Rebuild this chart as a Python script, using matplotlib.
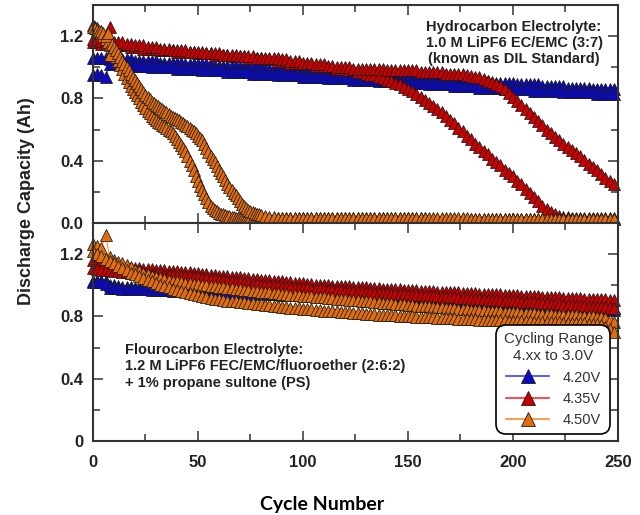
import matplotlib
matplotlib.use("Agg")
import matplotlib.pyplot as plt
import matplotlib.ticker as ticker
from matplotlib.lines import Line2D

plt.rcParams["font.family"] = ["Liberation Sans", "DejaVu Sans"]

#cycle numbers, one point every 2 cycles
cycles = list(range(0, 250, 2))
#4.50V hydrocarbon cells fade fast: every cycle up to 80, then every 2
cycles_fast = list(range(0, 80)) + list(range(80, 250, 2))

voltages = ["4.20V", "4.35V", "4.50V"]

#---- top panel: hydrocarbon electrolyte (two cells per voltage) ----
hc_420_a = [1.06, 1.06, 1.06, 1.06, 1.05, 1.05, 1.05, 1.05, 1.05, 1.05,
            1.04, 1.04, 1.04, 1.04, 1.04, 1.04, 1.03, 1.03, 1.03, 1.03,
            1.03, 1.03, 1.02, 1.02, 1.02, 1.02, 1.02, 1.02, 1.02, 1.01,
            1.01, 1.01, 1.01, 1.01, 1.01, 1.00, 1.00, 1.00, 1.00, 1.00,
            1.00, 0.99, 0.99, 0.99, 0.99, 0.99, 0.99, 0.98, 0.98, 0.98,
            0.98, 0.98, 0.98, 0.97, 0.97, 0.97, 0.97, 0.97, 0.97, 0.96,
            0.96, 0.96, 0.96, 0.96, 0.96, 0.95, 0.95, 0.95, 0.95, 0.95,
            0.95, 0.94, 0.94, 0.94, 0.94, 0.94, 0.94, 0.93, 0.93, 0.93,
            0.93, 0.93, 0.93, 0.92, 0.92, 0.92, 0.92, 0.92, 0.92, 0.91,
            0.91, 0.91, 0.91, 0.91, 0.91, 0.90, 0.90, 0.90, 0.90, 0.90,
            0.90, 0.89, 0.89, 0.89, 0.89, 0.89, 0.89, 0.88, 0.88, 0.88,
            0.88, 0.88, 0.88, 0.87, 0.87, 0.87, 0.87, 0.87, 0.87, 0.86,
            0.86, 0.86, 0.86, 0.86, 0.86]
hc_420_b = [0.95, 0.96, 0.95, 0.94, 1.02, 1.02, 1.02, 1.02, 1.01, 1.01,
            1.01, 1.01, 1.01, 1.01, 1.00, 1.00, 1.00, 1.00, 1.00, 1.00,
            0.99, 0.99, 0.99, 0.99, 0.99, 0.99, 0.98, 0.98, 0.98, 0.98,
            0.98, 0.98, 0.97, 0.97, 0.97, 0.97, 0.97, 0.97, 0.96, 0.96,
            0.96, 0.96, 0.96, 0.96, 0.95, 0.95, 0.95, 0.95, 0.95, 0.95,
            0.94, 0.94, 0.94, 0.94, 0.94, 0.94, 0.93, 0.93, 0.93, 0.93,
            0.93, 0.93, 0.92, 0.92, 0.92, 0.92, 0.92, 0.92, 0.91, 0.91,
            0.91, 0.91, 0.91, 0.91, 0.90, 0.90, 0.90, 0.90, 0.90, 0.90,
            0.89, 0.89, 0.89, 0.89, 0.89, 0.89, 0.88, 0.88, 0.88, 0.88,
            0.88, 0.88, 0.87, 0.87, 0.87, 0.87, 0.87, 0.87, 0.86, 0.86,
            0.86, 0.86, 0.86, 0.86, 0.86, 0.85, 0.85, 0.85, 0.85, 0.85,
            0.85, 0.85, 0.84, 0.84, 0.84, 0.84, 0.84, 0.84, 0.84, 0.84,
            0.83, 0.83, 0.83, 0.83, 0.83]
hc_435_a = [1.16, 1.16, 1.15, 1.15, 1.26, 1.15, 1.14, 1.14, 1.14, 1.13,
            1.13, 1.13, 1.12, 1.12, 1.12, 1.12, 1.11, 1.11, 1.11, 1.11,
            1.10, 1.10, 1.10, 1.10, 1.10, 1.09, 1.09, 1.09, 1.09, 1.08,
            1.08, 1.08, 1.08, 1.07, 1.07, 1.07, 1.07, 1.06, 1.06, 1.06,
            1.06, 1.05, 1.05, 1.05, 1.04, 1.04, 1.04, 1.03, 1.03, 1.03,
            1.02, 1.02, 1.02, 1.01, 1.01, 1.01, 1.00, 1.00, 0.99, 0.99,
            0.99, 0.98, 0.98, 0.97, 0.97, 0.96, 0.95, 0.95, 0.94, 0.93,
            0.92, 0.915, 0.90, 0.89, 0.875, 0.86, 0.845, 0.83, 0.81, 0.79,
            0.77, 0.75, 0.73, 0.71, 0.685, 0.66, 0.64, 0.61, 0.59, 0.56,
            0.54, 0.51, 0.485, 0.46, 0.44, 0.41, 0.39, 0.37, 0.34, 0.32,
            0.30, 0.27, 0.25, 0.22, 0.195, 0.17, 0.14, 0.11, 0.09, 0.07,
            0.055, 0.045, 0.04, 0.036, 0.033, 0.03, 0.03, 0.03, 0.03, 0.03,
            0.03, 0.03, 0.03, 0.03, 0.03]
hc_435_b = [1.18, 1.18, 1.17, 1.17, 1.17, 1.16, 1.16, 1.16, 1.15, 1.15,
            1.14, 1.14, 1.14, 1.13, 1.13, 1.13, 1.12, 1.12, 1.12, 1.11,
            1.11, 1.11, 1.11, 1.10, 1.10, 1.10, 1.10, 1.09, 1.09, 1.09,
            1.09, 1.08, 1.08, 1.08, 1.08, 1.07, 1.07, 1.07, 1.07, 1.06,
            1.06, 1.06, 1.06, 1.06, 1.06, 1.05, 1.05, 1.04, 1.04, 1.04,
            1.03, 1.03, 1.03, 1.02, 1.02, 1.02, 1.01, 1.01, 1.00, 1.00,
            1.00, 1.00, 0.99, 0.99, 0.99, 0.99, 0.99, 0.99, 0.99, 0.99,
            0.98, 0.98, 0.98, 0.98, 0.98, 0.98, 0.98, 0.98, 0.97, 0.97,
            0.97, 0.97, 0.97, 0.97, 0.96, 0.96, 0.96, 0.96, 0.96, 0.95,
            0.945, 0.94, 0.935, 0.925, 0.915, 0.905, 0.895, 0.88, 0.86, 0.835,
            0.81, 0.785, 0.76, 0.73, 0.705, 0.68, 0.655, 0.63, 0.60, 0.575,
            0.555, 0.53, 0.51, 0.49, 0.47, 0.45, 0.43, 0.405, 0.38, 0.36,
            0.34, 0.315, 0.29, 0.27, 0.25]
hc_450_a = [1.27, 1.26, 1.25, 1.235, 1.22, 1.20, 1.18, 1.16, 1.14, 1.115,
            1.09, 1.065, 1.04, 1.015, 0.99, 0.96, 0.93, 0.905, 0.88, 0.86,
            0.84, 0.82, 0.80, 0.78, 0.76, 0.74, 0.72, 0.705, 0.69, 0.675,
            0.66, 0.65, 0.64, 0.63, 0.62, 0.61, 0.60, 0.59, 0.58, 0.56,
            0.54, 0.52, 0.50, 0.48, 0.46, 0.43, 0.40, 0.37, 0.34, 0.305,
            0.27, 0.24, 0.21, 0.185, 0.16, 0.135, 0.11, 0.097, 0.085, 0.075,
            0.065, 0.06, 0.055, 0.05, 0.045, 0.042, 0.04, 0.037, 0.035, 0.032,
            0.03, 0.03, 0.03, 0.03, 0.03, 0.03, 0.03, 0.03, 0.03, 0.03,
            0.03, 0.03, 0.03, 0.03, 0.03, 0.03, 0.03, 0.03, 0.03, 0.03,
            0.03, 0.03, 0.03, 0.03, 0.03, 0.03, 0.03, 0.03, 0.03, 0.03,
            0.029, 0.029, 0.029, 0.029, 0.029, 0.029, 0.029, 0.029, 0.029, 0.029,
            0.029, 0.029, 0.029, 0.029, 0.029, 0.029, 0.029, 0.029, 0.029, 0.029,
            0.028, 0.028, 0.028, 0.028, 0.028, 0.028, 0.028, 0.028, 0.028, 0.028,
            0.028, 0.028, 0.028, 0.028, 0.028, 0.028, 0.028, 0.028, 0.028, 0.028,
            0.027, 0.027, 0.027, 0.027, 0.027, 0.027, 0.027, 0.027, 0.027, 0.027,
            0.026, 0.026, 0.026, 0.026, 0.026, 0.026, 0.026, 0.026, 0.026, 0.026,
            0.025, 0.025, 0.025, 0.025, 0.025]
hc_450_b = [1.26, 1.25, 1.24, 1.235, 1.23, 1.22, 1.20, 1.22, 1.08, 1.15,
            1.13, 1.11, 1.09, 1.065, 1.04, 1.02, 1.00, 0.98, 0.96, 0.94,
            0.92, 0.90, 0.88, 0.86, 0.84, 0.825, 0.81, 0.795, 0.78, 0.77,
            0.76, 0.75, 0.74, 0.73, 0.72, 0.71, 0.70, 0.69, 0.68, 0.675,
            0.67, 0.66, 0.65, 0.64, 0.63, 0.62, 0.61, 0.60, 0.59, 0.575,
            0.56, 0.545, 0.53, 0.505, 0.48, 0.455, 0.43, 0.41, 0.39, 0.365,
            0.34, 0.32, 0.30, 0.275, 0.25, 0.23, 0.21, 0.195, 0.18, 0.16,
            0.14, 0.125, 0.11, 0.097, 0.085, 0.077, 0.07, 0.065, 0.06, 0.055,
            0.05, 0.045, 0.04, 0.036, 0.033, 0.031, 0.03, 0.03, 0.03, 0.03,
            0.03, 0.03, 0.03, 0.03, 0.03, 0.03, 0.03, 0.03, 0.03, 0.03,
            0.03, 0.03, 0.03, 0.03, 0.03, 0.03, 0.03, 0.03, 0.03, 0.03,
            0.029, 0.029, 0.029, 0.029, 0.029, 0.029, 0.029, 0.029, 0.029, 0.029,
            0.029, 0.029, 0.029, 0.029, 0.029, 0.029, 0.029, 0.029, 0.029, 0.029,
            0.028, 0.028, 0.028, 0.028, 0.028, 0.028, 0.028, 0.028, 0.028, 0.028,
            0.028, 0.028, 0.028, 0.028, 0.028, 0.028, 0.028, 0.028, 0.028, 0.028,
            0.027, 0.027, 0.027, 0.027, 0.027, 0.027, 0.027, 0.027, 0.027, 0.027,
            0.026, 0.026, 0.026, 0.026, 0.026]

#---- bottom panel: fluorocarbon electrolyte ----
fc_420_a = [1.03, 1.03, 1.03, 1.03, 1.00, 1.00, 0.995, 0.99, 0.99, 0.99,
            0.985, 0.985, 0.985, 0.98, 0.98, 0.98, 0.978, 0.976, 0.974, 0.972,
            0.97, 0.97, 0.968, 0.966, 0.965, 0.964, 0.963, 0.962, 0.961, 0.96,
            0.96, 0.958, 0.957, 0.956, 0.955, 0.954, 0.953, 0.952, 0.951, 0.95,
            0.949, 0.948, 0.947, 0.946, 0.945, 0.945, 0.944, 0.943, 0.942, 0.941,
            0.94, 0.939, 0.938, 0.937, 0.936, 0.935, 0.934, 0.933, 0.932, 0.931,
            0.93, 0.929, 0.927, 0.926, 0.925, 0.923, 0.922, 0.921, 0.919, 0.918,
            0.917, 0.915, 0.914, 0.913, 0.911, 0.91, 0.909, 0.907, 0.906, 0.905,
            0.903, 0.902, 0.901, 0.899, 0.898, 0.897, 0.895, 0.894, 0.893, 0.891,
            0.89, 0.889, 0.888, 0.887, 0.886, 0.885, 0.884, 0.883, 0.882, 0.881,
            0.88, 0.879, 0.878, 0.877, 0.876, 0.875, 0.874, 0.873, 0.872, 0.871,
            0.87, 0.869, 0.868, 0.867, 0.866, 0.865, 0.864, 0.863, 0.862, 0.861,
            0.86, 0.859, 0.858, 0.857, 0.856]
fc_420_b = [1.02, 1.02, 1.02, 1.01, 0.985, 0.983, 0.98, 0.979, 0.978, 0.977,
            0.976, 0.975, 0.974, 0.973, 0.972, 0.971, 0.97, 0.968, 0.967, 0.966,
            0.965, 0.964, 0.963, 0.962, 0.961, 0.96, 0.959, 0.958, 0.957, 0.956,
            0.955, 0.954, 0.953, 0.952, 0.951, 0.95, 0.949, 0.948, 0.947, 0.946,
            0.945, 0.944, 0.943, 0.942, 0.941, 0.94, 0.939, 0.938, 0.937, 0.936,
            0.935, 0.934, 0.933, 0.932, 0.931, 0.93, 0.929, 0.928, 0.927, 0.926,
            0.925, 0.923, 0.922, 0.921, 0.92, 0.918, 0.917, 0.915, 0.914, 0.913,
            0.911, 0.91, 0.908, 0.907, 0.906, 0.904, 0.903, 0.901, 0.90, 0.899,
            0.897, 0.896, 0.895, 0.893, 0.892, 0.891, 0.889, 0.888, 0.887, 0.885,
            0.884, 0.883, 0.881, 0.88, 0.879, 0.878, 0.877, 0.876, 0.875, 0.874,
            0.873, 0.872, 0.871, 0.87, 0.869, 0.868, 0.867, 0.866, 0.865, 0.864,
            0.863, 0.862, 0.86, 0.859, 0.858, 0.856, 0.855, 0.853, 0.852, 0.851,
            0.849, 0.847, 0.845, 0.843, 0.841]
fc_435_a = [1.16, 1.155, 1.15, 1.145, 1.14, 1.13, 1.125, 1.12, 1.115, 1.11,
            1.11, 1.108, 1.106, 1.104, 1.102, 1.10, 1.098, 1.096, 1.094, 1.092,
            1.09, 1.088, 1.085, 1.083, 1.08, 1.077, 1.074, 1.071, 1.068, 1.065,
            1.062, 1.06, 1.057, 1.055, 1.052, 1.05, 1.047, 1.045, 1.042, 1.04,
            1.037, 1.035, 1.032, 1.03, 1.027, 1.025, 1.022, 1.02, 1.017, 1.015,
            1.012, 1.01, 1.007, 1.005, 1.003, 1.00, 0.999, 0.998, 0.997, 0.996,
            0.995, 0.993, 0.991, 0.989, 0.988, 0.986, 0.984, 0.983, 0.981, 0.979,
            0.978, 0.976, 0.975, 0.973, 0.972, 0.97, 0.969, 0.967, 0.966, 0.964,
            0.963, 0.962, 0.96, 0.959, 0.958, 0.957, 0.955, 0.954, 0.953, 0.952,
            0.95, 0.949, 0.947, 0.946, 0.945, 0.943, 0.942, 0.941, 0.939, 0.938,
            0.937, 0.935, 0.934, 0.933, 0.931, 0.93, 0.929, 0.927, 0.926, 0.925,
            0.924, 0.922, 0.921, 0.92, 0.919, 0.917, 0.916, 0.915, 0.914, 0.912,
            0.911, 0.91, 0.909, 0.907, 0.906]
fc_435_b = [1.11, 1.105, 1.10, 1.098, 1.095, 1.092, 1.09, 1.087, 1.085, 1.082,
            1.08, 1.078, 1.077, 1.075, 1.073, 1.072, 1.07, 1.068, 1.066, 1.064,
            1.062, 1.061, 1.06, 1.057, 1.054, 1.051, 1.048, 1.045, 1.042, 1.039,
            1.036, 1.033, 1.03, 1.026, 1.023, 1.02, 1.017, 1.014, 1.011, 1.008,
            1.005, 1.002, 0.999, 0.996, 0.993, 0.99, 0.988, 0.986, 0.985, 0.983,
            0.982, 0.98, 0.978, 0.977, 0.975, 0.973, 0.972, 0.97, 0.968, 0.967,
            0.965, 0.963, 0.962, 0.96, 0.958, 0.957, 0.955, 0.953, 0.952, 0.95,
            0.948, 0.947, 0.945, 0.943, 0.942, 0.94, 0.938, 0.937, 0.935, 0.933,
            0.932, 0.93, 0.928, 0.927, 0.925, 0.923, 0.922, 0.92, 0.918, 0.917,
            0.915, 0.913, 0.912, 0.91, 0.908, 0.907, 0.905, 0.903, 0.902, 0.90,
            0.898, 0.897, 0.895, 0.893, 0.892, 0.89, 0.888, 0.886, 0.884, 0.882,
            0.88, 0.878, 0.876, 0.874, 0.872, 0.87, 0.868, 0.866, 0.864, 0.862,
            0.86, 0.859, 0.858, 0.856, 0.855]
fc_450_a = [1.265, 1.25, 1.24, 1.32, 1.18, 1.165, 1.15, 1.14, 1.13, 1.115,
            1.10, 1.09, 1.08, 1.07, 1.062, 1.055, 1.048, 1.041, 1.035, 1.03,
            1.025, 1.02, 1.017, 1.013, 1.01, 1.006, 1.003, 1.00, 0.997, 0.994,
            0.99, 0.987, 0.984, 0.981, 0.978, 0.975, 0.972, 0.969, 0.966, 0.963,
            0.96, 0.957, 0.954, 0.951, 0.948, 0.945, 0.943, 0.94, 0.938, 0.936,
            0.933, 0.931, 0.929, 0.926, 0.924, 0.922, 0.919, 0.917, 0.915, 0.912,
            0.91, 0.908, 0.905, 0.903, 0.901, 0.898, 0.896, 0.893, 0.891, 0.889,
            0.886, 0.884, 0.882, 0.879, 0.877, 0.875, 0.872, 0.87, 0.868, 0.866,
            0.864, 0.862, 0.86, 0.858, 0.856, 0.854, 0.852, 0.85, 0.848, 0.846,
            0.844, 0.842, 0.84, 0.839, 0.837, 0.835, 0.834, 0.832, 0.83, 0.829,
            0.827, 0.826, 0.824, 0.823, 0.821, 0.82, 0.818, 0.817, 0.815, 0.814,
            0.812, 0.811, 0.81, 0.808, 0.807, 0.806, 0.804, 0.803, 0.802, 0.80,
            0.798, 0.795, 0.79, 0.78, 0.765]
fc_450_b = [1.22, 1.20, 1.185, 1.17, 1.155, 1.14, 1.125, 1.11, 1.095, 1.082,
            1.07, 1.058, 1.047, 1.036, 1.025, 1.015, 1.005, 0.995, 0.986, 0.978,
            0.97, 0.962, 0.955, 0.948, 0.942, 0.936, 0.93, 0.925, 0.92, 0.915,
            0.91, 0.906, 0.902, 0.899, 0.896, 0.893, 0.89, 0.887, 0.884, 0.881,
            0.878, 0.875, 0.872, 0.869, 0.866, 0.863, 0.86, 0.857, 0.854, 0.852,
            0.849, 0.847, 0.845, 0.842, 0.84, 0.838, 0.836, 0.834, 0.832, 0.83,
            0.828, 0.826, 0.824, 0.822, 0.82, 0.818, 0.816, 0.814, 0.812, 0.81,
            0.808, 0.807, 0.806, 0.805, 0.803, 0.802, 0.80, 0.799, 0.798, 0.796,
            0.795, 0.794, 0.792, 0.791, 0.79, 0.788, 0.787, 0.786, 0.784, 0.783,
            0.782, 0.781, 0.78, 0.779, 0.778, 0.777, 0.776, 0.775, 0.774, 0.773,
            0.772, 0.771, 0.77, 0.769, 0.768, 0.767, 0.766, 0.765, 0.764, 0.763,
            0.762, 0.761, 0.76, 0.759, 0.758, 0.757, 0.756, 0.755, 0.754, 0.753,
            0.752, 0.745, 0.735, 0.72, 0.70]

line_colors = {"4.20V": "#4040ff", "4.35V": "#ff2a2a", "4.50V": "#ff8a30"}
face_colors = {"4.20V": "#0a0ac4", "4.35V": "#c80000", "4.50V": "#e26d0e"}
text_color = "#222222"


def plot_cells(ax, x, y, volt):
    ax.plot(x, y, color=line_colors[volt], lw=0.8, marker="^", ms=8,
            mfc=face_colors[volt], mec="#1a1a1a", mew=0.55, clip_on=False)


def format_axis(ax, ylabels):
    ax.set_xlim(0, 250)
    ax.set_ylim(0, 1.4)
    ax.xaxis.set_major_locator(ticker.MultipleLocator(50))
    ax.xaxis.set_minor_locator(ticker.MultipleLocator(25))
    ax.yaxis.set_major_locator(ticker.FixedLocator([0, 0.4, 0.8, 1.2]))
    ax.yaxis.set_minor_locator(ticker.FixedLocator([0.2, 0.6, 1.0]))
    ax.yaxis.set_major_formatter(ticker.FixedFormatter(ylabels))
    ax.tick_params(which="both", direction="in", top=True, right=True,
                   width=1.1, color="#333333", labelsize=12, labelcolor=text_color)
    ax.tick_params(which="major", length=7)
    ax.tick_params(which="minor", length=5)
    ax.tick_params(axis="y", pad=7)
    ax.tick_params(axis="x", pad=10)
    for lab in ax.get_xticklabels() + ax.get_yticklabels():
        lab.set_fontweight("bold")
    for sp in ax.spines.values():
        sp.set_linewidth(1.5)
        sp.set_color("#333333")


fig = plt.figure(figsize=(6.4, 5.15), dpi=100)
ax1 = fig.add_axes([0.1453, 0.5670, 0.8203, 0.4233])
ax2 = fig.add_axes([0.1453, 0.1437, 0.8203, 0.4233])

#top: hydrocarbon electrolyte
plot_cells(ax1, cycles, hc_420_a, "4.20V")
plot_cells(ax1, cycles, hc_420_b, "4.20V")
plot_cells(ax1, cycles, hc_435_a, "4.35V")
plot_cells(ax1, cycles, hc_435_b, "4.35V")
plot_cells(ax1, cycles_fast, hc_450_a, "4.50V")
plot_cells(ax1, cycles_fast, hc_450_b, "4.50V")
format_axis(ax1, ["0.0", "0.4", "0.8", "1.2"])
ax1.tick_params(axis="x", labelbottom=False)
ax1.text(0.802, 0.827, "Hydrocarbon Electrolyte:\n1.0 M LiPF6 EC/EMC (3:7)\n(known as DIL Standard)",
         transform=ax1.transAxes, ha="center", va="center", multialignment="center",
         fontsize=10.5, fontweight="bold", color=text_color, linespacing=1.2)

#bottom: fluorocarbon electrolyte
plot_cells(ax2, cycles, fc_420_a, "4.20V")
plot_cells(ax2, cycles, fc_420_b, "4.20V")
plot_cells(ax2, cycles, fc_435_a, "4.35V")
plot_cells(ax2, cycles, fc_435_b, "4.35V")
plot_cells(ax2, cycles, fc_450_a, "4.50V")
plot_cells(ax2, cycles, fc_450_b, "4.50V")
format_axis(ax2, ["0", "0.4", "0.8", "1.2"])
ax2.text(0.061, 0.342, "Flourocarbon Electrolyte:\n1.2 M LiPF6 FEC/EMC/fluoroether (2:6:2)\n+ 1% propane sultone (PS)",
         transform=ax2.transAxes, ha="left", va="center", multialignment="left",
         fontsize=10.5, fontweight="bold", color=text_color, linespacing=1.2)

#legend
handles = [Line2D([], [], color=line_colors[v], lw=1.2, marker="^", ms=10,
                  mfc=face_colors[v], mec="#1a1a1a", mew=0.6) for v in voltages]
leg = ax2.legend(handles, voltages, title="Cycling Range\n4.xx to 3.0V",
                 loc="lower right", bbox_to_anchor=(0.985, 0.03), borderaxespad=0,
                 fontsize=10.5, title_fontsize=11, frameon=True, fancybox=True,
                 handlelength=3.0, handletextpad=0.9, labelspacing=0.5, borderpad=0.5,
                 framealpha=1)
leg.get_frame().set_edgecolor("black")
leg.get_frame().set_linewidth(1.2)
leg.get_frame().set_boxstyle("round,pad=0,rounding_size=0.7")
leg.get_title().set_multialignment("center")
leg.get_title().set_linespacing(1.3)
leg.get_title().set_color("#333333")
for t in leg.get_texts():
    t.set_color("#333333")

#axis titles
fig.text(0.042, 0.61, "Discharge Capacity (Ah)", rotation=90, ha="center", va="center",
         fontsize=13, fontweight="bold", color=text_color)
fig.text(0.503, 0.0097, "Cycle Number", ha="center", va="baseline",
         fontsize=14, fontweight="bold", family=["Lato", "DejaVu Sans"], color="black")

fig.savefig("out.png", dpi=100)
